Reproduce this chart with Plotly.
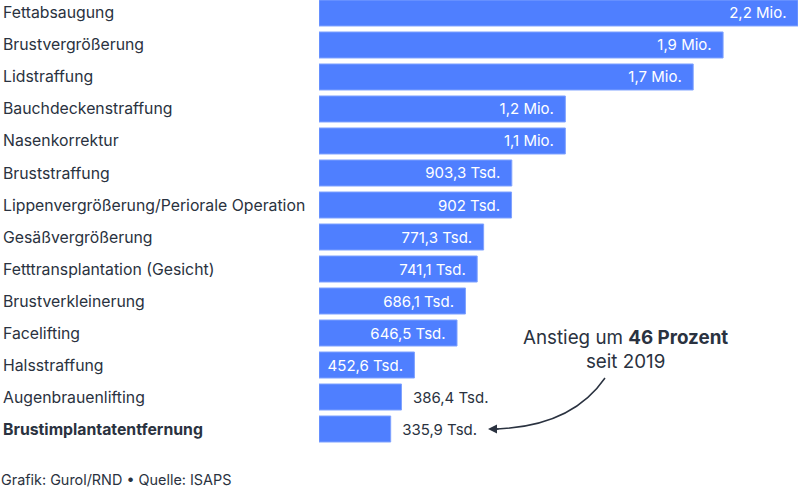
import plotly.graph_objects as go

categories = ["Fettabsaugung", "Brustvergrößerung", "Lidstraffung", "Bauchdeckenstraffung",
              "Nasenkorrektur", "Bruststraffung", "Lippenvergrößerung/Periorale Operation",
              "Gesäßvergrößerung", "Fetttransplantation (Gesicht)", "Brustverkleinerung",
              "Facelifting", "Halsstraffung", "Augenbrauenlifting", "Brustimplantatentfernung"]
# bar lengths (in thousands)
values = [2244, 1893, 1753, 1154, 1154, 903.3, 902, 771.3, 741.1, 686.1, 646.5,
          447, 386.4, 335.9]
value_labels = ["2,2 Mio.", "1,9 Mio.", "1,7 Mio.", "1,2 Mio.", "1,1 Mio.", "903,3 Tsd.",
                "902 Tsd.", "771,3 Tsd.", "741,1 Tsd.", "686,1 Tsd.", "646,5 Tsd.",
                "452,6 Tsd.", "386,4 Tsd.", "335,9 Tsd."]
inside = [True] * 12 + [False] * 2

BLUE = "#4f7fff"
DARK = "#2a3240"
FONT = "Inter"

n = len(categories)
ypos = list(range(n))
texts = [(l + "\u00a0\u00a0") if ins else ("\u00a0\u00a0" + l) for l, ins in zip(value_labels, inside)]

fig = go.Figure(go.Bar(
    x=values, y=ypos, orientation="h",
    marker=dict(color=BLUE, line=dict(color="#7fa2ff", width=1)),
    text=texts,
    textposition=["inside" if i else "outside" for i in inside],
    insidetextanchor="end",
    textfont=dict(family=FONT, size=15),
    insidetextfont=dict(family=FONT, size=15, color="white"),
    outsidetextfont=dict(family=FONT, size=15, color=DARK),
    constraintext="none",
    cliponaxis=False,
    width=26 / 32,
    hoverinfo="skip",
))

L, R = 319, 2
PW = 800 - L - R
fig.update_layout(
    width=800, height=488,
    margin=dict(l=L, r=R, t=0, b=43),
    paper_bgcolor="white", plot_bgcolor="white",
    showlegend=False,
    font=dict(family=FONT, color=DARK),
    xaxis=dict(range=[0, max(values)], visible=False, fixedrange=True),
    yaxis=dict(range=[n - 0.5, -0.406], visible=False, fixedrange=True),
)


def px(xp):
    return (xp - L) / PW


def py(yp):
    return (445 - yp) / 445


for i, c in enumerate(categories):
    fig.add_annotation(
        x=px(0.5), xref="paper", y=i, yref="y",
        text=f"<b>{c}</b>" if i == n - 1 else c,
        showarrow=False, xanchor="left", yanchor="middle",
        font=dict(family=FONT, size=15.8, color=DARK),
    )

fig.add_annotation(
    x=px(-1.5), xref="paper", y=py(479), yref="paper", yanchor="middle",
    text="Grafik: Gurol/RND • Quelle: ISAPS", showarrow=False, xanchor="left",
    font=dict(family=FONT, size=14.4, color=DARK),
)

# callout text
fig.add_annotation(
    x=px(625), xref="paper", y=py(349), yref="paper",
    text="Anstieg um <b>46 Prozent</b><br>seit 2019", showarrow=False,
    xanchor="center", yanchor="middle", align="center",
    font=dict(family=FONT, size=18.8, color=DARK),
)

# curved arrow
fig.add_shape(
    type="path", xref="paper", yref="paper",
    path=f"M {px(605)} {py(378)} Q {px(572)} {py(426)} {px(497)} {py(429)}",
    line=dict(color=DARK, width=1.5),
)
fig.add_annotation(
    x=px(488), y=py(429), xref="paper", yref="paper",
    ax=12, ay=0, axref="pixel", ayref="pixel",
    text="", showarrow=True, arrowhead=2, arrowsize=1.2, arrowwidth=1.5,
    arrowcolor=DARK,
)

fig.write_html("out.html")
